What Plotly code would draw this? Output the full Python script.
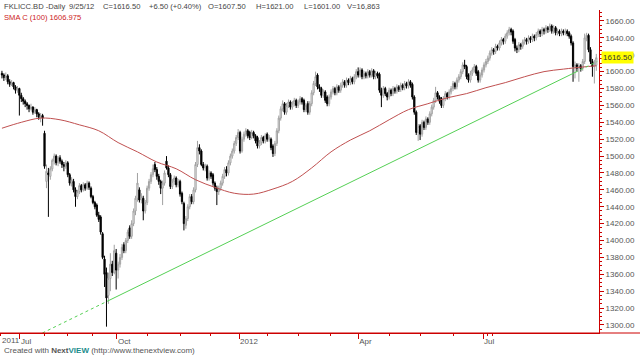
import plotly.graph_objects as go

# ---- OHLC data (daily bars, FKLICC.BD, mid-2011 .. 9/25/12) ----
opens = [
1598,1596,1593,1595,1588,1585,1587,1582,1578,1580,
1572,1568,1565,1562,1560,1556,1558,1552,1555,1550,
1546,1548,1527,1470,1480,1476,1485,1494,1500,1492,
1498,1494,1490,1488,1492,1478,1468,1470,1460,1452,
1458,1465,1460,1466,1462,1468,1462,1452,1445,1442,
1430,1428,1408,1378,1362,1335,1355,1372,1362,1385,
1365,1372,1380,1395,1388,1400,1415,1405,1420,1435,
1450,1460,1448,1450,1435,1445,1462,1470,1478,1490,
1484,1476,1470,1462,1468,1494,1486,1478,1464,1470,
1474,1466,1470,1456,1444,1418,1426,1440,1452,1446,
1460,1490,1510,1506,1490,1486,1488,1474,1480,1478,
1468,1462,1458,1462,1468,1476,1484,1480,1492,1500,
1506,1515,1522,1528,1506,1520,1526,1530,1528,1522,
1528,1524,1522,1512,1516,1522,1518,1526,1520,1520,
1512,1503,1515,1530,1545,1556,1562,1552,1560,1564,
1558,1562,1566,1560,1564,1568,1566,1555,1562,1552,
1562,1575,1586,1596,1582,1580,1572,1576,1570,1562,
1570,1576,1580,1575,1582,1578,1584,1588,1584,1590,
1587,1592,1588,1594,1600,1596,1602,1594,1598,1595,
1600,1596,1601,1594,1598,1597,1578,1572,1580,1574,
1570,1578,1574,1580,1577,1582,1579,1584,1581,1586,
1583,1588,1585,1570,1552,1528,1536,1526,1540,1534,
1544,1540,1550,1558,1566,1575,1570,1568,1560,1568,
1574,1570,1576,1580,1586,1582,1590,1594,1600,1608,
1606,1596,1590,1598,1602,1606,1600,1590,1596,1602,
1608,1612,1616,1622,1626,1624,1630,1628,1634,1638,
1636,1642,1646,1650,1648,1638,1628,1626,1632,1630,
1635,1638,1636,1640,1638,1642,1640,1644,1648,1645,
1650,1648,1652,1650,1654,1648,1652,1646,1648,1645,
1648,1646,1648,1646,1642,1634,1606,1608,1604,1607,
1604,1612,1640,1643,1626,1612,1606,1607.5]

highs = [
1601,1598,1599,1597,1591,1590,1588,1584,1583,1581,
1575,1570,1567,1564,1561,1562,1559,1558,1556,1552,
1551,1550,1530,1490,1486,1488,1497,1503,1502,1500,
1501,1496,1493,1495,1494,1480,1475,1473,1463,1460,
1468,1467,1469,1468,1471,1470,1464,1454,1447,1444,
1434,1430,1410,1382,1368,1362,1385,1376,1395,1390,
1375,1384,1396,1398,1403,1413,1418,1424,1438,1453,
1480,1463,1456,1453,1448,1465,1473,1481,1490,1493,
1487,1479,1472,1471,1483,1500,1489,1480,1473,1477,
1476,1473,1472,1458,1446,1429,1443,1455,1455,1463,
1493,1518,1514,1508,1493,1491,1490,1483,1482,1480,
1470,1465,1465,1471,1479,1487,1488,1495,1503,1509,
1518,1525,1532,1530,1523,1529,1533,1532,1530,1531,
1530,1526,1524,1519,1525,1524,1527,1528,1525,1522,
1514,1518,1533,1548,1559,1566,1564,1563,1567,1566,
1565,1569,1568,1567,1571,1570,1568,1563,1565,1565,
1578,1589,1600,1598,1585,1582,1579,1578,1572,1573,
1579,1583,1582,1585,1584,1587,1591,1590,1593,1592,
1595,1594,1597,1603,1605,1605,1604,1601,1600,1603,
1602,1604,1603,1601,1600,1599,1581,1583,1582,1576,
1581,1580,1583,1582,1585,1584,1587,1586,1589,1588,
1591,1590,1587,1572,1554,1538,1538,1543,1542,1547,
1546,1553,1561,1569,1582,1577,1572,1570,1571,1577,
1576,1579,1583,1589,1588,1593,1597,1603,1611,1614,
1608,1598,1601,1605,1609,1608,1602,1599,1605,1611,
1615,1619,1625,1629,1628,1633,1632,1637,1641,1640,
1645,1649,1653,1652,1650,1640,1631,1635,1634,1638,
1641,1640,1643,1642,1645,1644,1647,1651,1650,1653,
1652,1655,1654,1657,1656,1655,1654,1651,1650,1651,
1650,1651,1650,1648,1644,1636,1612,1610,1610,1609,
1615,1645,1646,1645,1629,1615,1614,1621]

lows = [
1592,1589,1590,1585,1582,1583,1579,1574,1575,1548,
1564,1561,1558,1555,1552,1554,1549,1550,1546,1543,
1540,1536,1485,1462,1428,1472,1482,1490,1489,1488,
1491,1486,1482,1485,1475,1465,1464,1457,1440,1449,
1455,1457,1458,1459,1460,1460,1450,1443,1437,1428,
1422,1407,1378,1345,1298,1325,1340,1358,1360,1342,
1355,1368,1377,1385,1385,1397,1402,1402,1417,1430,
1446,1445,1444,1424,1432,1442,1459,1467,1475,1481,
1472,1466,1455,1442,1465,1484,1475,1461,1461,1466,
1463,1463,1452,1443,1412,1414,1423,1437,1443,1443,
1457,1487,1502,1488,1483,1482,1471,1471,1473,1465,
1459,1442,1454,1459,1465,1473,1476,1477,1489,1497,
1503,1512,1519,1503,1504,1517,1523,1521,1519,1520,
1521,1515,1509,1509,1513,1515,1515,1517,1517,1507,
1499,1500,1512,1527,1542,1553,1549,1549,1557,1555,
1555,1559,1557,1557,1561,1561,1552,1552,1549,1549,
1559,1572,1583,1579,1576,1569,1569,1563,1559,1559,
1567,1573,1572,1572,1575,1575,1581,1581,1581,1584,
1584,1585,1585,1591,1593,1593,1591,1591,1592,1592,
1593,1593,1591,1591,1592,1575,1558,1569,1571,1566,
1567,1571,1571,1574,1574,1576,1576,1578,1578,1580,
1580,1581,1567,1549,1525,1518,1519,1523,1531,1531,
1537,1537,1547,1555,1563,1567,1562,1557,1557,1565,
1567,1567,1573,1577,1579,1579,1587,1591,1597,1603,
1591,1587,1587,1595,1599,1595,1587,1587,1593,1599,
1605,1609,1613,1619,1620,1621,1625,1625,1631,1632,
1633,1639,1643,1643,1633,1624,1622,1623,1626,1627,
1632,1632,1633,1634,1635,1636,1637,1641,1641,1642,
1644,1645,1646,1647,1645,1645,1643,1643,1642,1642,
1643,1643,1642,1639,1631,1588,1592,1600,1588,1600,
1601,1609,1636,1623,1609,1594,1586,1601]

closes = [
1596,1593,1595,1588,1585,1587,1582,1578,1580,1572,
1568,1565,1562,1560,1556,1558,1552,1555,1550,1546,
1548,1545,1488,1482,1478,1485,1495,1500,1492,1498,
1494,1490,1488,1492,1478,1468,1472,1460,1452,1458,
1465,1460,1466,1462,1468,1463,1452,1445,1440,1430,
1425,1410,1380,1360,1332,1355,1372,1362,1388,1365,
1372,1380,1392,1388,1400,1410,1405,1420,1435,1450,
1468,1448,1452,1435,1445,1462,1470,1478,1485,1484,
1476,1470,1462,1468,1480,1486,1478,1464,1470,1474,
1466,1470,1455,1446,1420,1426,1440,1452,1446,1460,
1490,1510,1506,1490,1486,1488,1474,1480,1476,1468,
1462,1458,1462,1468,1476,1484,1480,1492,1500,1506,
1515,1522,1528,1506,1520,1526,1530,1524,1522,1528,
1524,1518,1512,1516,1522,1518,1524,1520,1522,1510,
1503,1515,1530,1545,1556,1562,1552,1560,1564,1558,
1562,1566,1560,1564,1568,1564,1555,1560,1552,1562,
1575,1586,1594,1582,1580,1572,1576,1566,1562,1570,
1576,1580,1575,1582,1578,1584,1588,1584,1590,1587,
1592,1588,1594,1600,1596,1602,1594,1598,1595,1600,
1596,1601,1594,1598,1595,1578,1572,1580,1574,1570,
1578,1574,1580,1577,1582,1579,1584,1581,1586,1583,
1588,1584,1570,1552,1528,1535,1526,1540,1534,1544,
1540,1550,1558,1566,1575,1570,1565,1560,1568,1574,
1570,1576,1580,1586,1582,1590,1594,1600,1608,1606,
1594,1590,1598,1602,1606,1598,1590,1596,1602,1608,
1612,1616,1622,1626,1624,1630,1628,1634,1638,1636,
1642,1646,1650,1647,1636,1628,1626,1632,1630,1635,
1638,1636,1640,1638,1642,1640,1644,1648,1645,1650,
1648,1652,1650,1654,1648,1652,1646,1648,1645,1648,
1646,1648,1645,1642,1634,1606,1608,1604,1607,1604,
1612,1640,1643,1626,1612,1606,1610,1616.5]

bar_index = list(range(len(closes)))

# SMA(100) of close
sma_index = [0, 10, 20, 30, 40, 50, 60, 70, 80, 90, 100, 110, 120, 130, 140, 150,
             160, 170, 180, 190, 200, 210, 220, 230, 240, 250, 260, 270, 280, 290, 300, 307]
sma_values = [1533, 1540, 1545, 1543, 1537, 1530, 1516, 1505, 1493, 1485, 1472, 1463,
              1456, 1455, 1461, 1470, 1486, 1505, 1519, 1530, 1543, 1555, 1562, 1569,
              1574, 1581, 1587, 1594, 1600, 1603, 1605.5, 1606.975]

# Trend line (green): dotted extension, solid part, dotted extension
trend_dot1_index = [20.9, 54.3]
trend_dot1_values = [1290.5, 1328]
trend_solid_index = [54.3, 296]
trend_solid_values = [1328, 1599]
trend_dot2_index = [296, 307.5]
trend_dot2_values = [1599, 1612]

x_tick_index = [9.3, 59.4, 122.5, 184, 248.5]
x_tick_text = ["Jul", "Oct", "2012", "Apr", "Jul"]
first_year_label = "2011"
x_minor_index = [-0.6, 22.2, 34.1, 47, 75.4, 92, 107.5, 137.4, 153, 169.5, 200.4, 216, 233, 251, 253.6]
y_tick_values = list(range(1300, 1661, 20))

last_close = 1616.5

RED = "#cc0000"
TXT = "#555555"
FONT = "Liberation Sans, Arial, sans-serif"

W, H = 640, 357
ML, MR, MT, MB = 0, 41, 10, 24
PW, PH = W - ML - MR, H - MT - MB

def px(x):
    return (x - ML) / PW

def py(y):
    return (H - MB - y) / PH

fig = go.Figure()

fig.add_trace(go.Scatter(x=sma_index, y=sma_values, mode="lines",
                         line=dict(color="#c05050", width=1, shape="spline"),
                         hoverinfo="skip", showlegend=False))
fig.add_trace(go.Scatter(x=trend_dot1_index, y=trend_dot1_values, mode="lines",
                         line=dict(color="#55d055", width=1, dash="dot"),
                         hoverinfo="skip", showlegend=False))
fig.add_trace(go.Scatter(x=trend_solid_index, y=trend_solid_values, mode="lines",
                         line=dict(color="#55d055", width=1),
                         hoverinfo="skip", showlegend=False))
fig.add_trace(go.Scatter(x=trend_dot2_index, y=trend_dot2_values, mode="lines",
                         line=dict(color="#55d055", width=1, dash="dot"),
                         hoverinfo="skip", showlegend=False))

fig.add_trace(go.Candlestick(
    x=bar_index, open=opens, high=highs, low=lows, close=closes,
    increasing=dict(line=dict(color="#a0a0a0", width=1), fillcolor="white"),
    decreasing=dict(line=dict(color="black", width=1), fillcolor="black"),
    whiskerwidth=0, showlegend=False, hoverinfo="skip"))

fig.update_layout(
    width=W, height=H,
    margin=dict(l=ML, r=MR, t=MT, b=MB, pad=0),
    paper_bgcolor="white", plot_bgcolor="white",
    showlegend=False, boxgap=0.1,
    font=dict(family=FONT, size=8, color=TXT),
    xaxis=dict(
        range=[-1, 308.4], rangeslider=dict(visible=False),
        showgrid=False, zeroline=False,
        showline=True, linecolor=RED, linewidth=1,
        tickmode="array", tickvals=x_tick_index, ticktext=x_tick_text,
        ticks="outside", ticklen=5, tickcolor=RED, tickwidth=1,
        ticklabelposition="outside right",
        tickfont=dict(family=FONT, size=8, color=TXT),
        minor=dict(tickmode="array", tickvals=x_minor_index, ticks="outside",
                   ticklen=2, tickcolor=RED, tickwidth=1, showgrid=False),
    ),
    yaxis=dict(
        range=[1290.5, 1673], side="right",
        showgrid=False, zeroline=False,
        showline=True, linecolor=RED, linewidth=1,
        tickmode="array", tickvals=y_tick_values, tickformat=".2f",
        ticks="outside", ticklen=4, tickcolor=RED, tickwidth=1,
        tickfont=dict(family=FONT, size=8, color=TXT),
        minor=dict(dtick=5, ticks="outside", ticklen=2, tickcolor=RED,
                   tickwidth=1, showgrid=False),
    ),
    hovermode=False,
)

# bottom red line running under the price scale to the page edge
fig.add_shape(type="line", xref="paper", yref="paper", x0=0, x1=W / PW, y0=0, y1=0,
              line=dict(color=RED, width=1))

ann = []
header = [
    (2, "FKLICC.BD -Daily"), (67, "9/25/12"), (101, "C=1616.50"),
    (147, "+6.50 (+0.40%)"), (206, "O=1607.50"), (254, "H=1621.00"),
    (302, "L=1601.00"), (345, "V=16,863"),
]
for x, t in header:
    ann.append(dict(x=px(x), y=py(6), xref="paper", yref="paper", text=t,
                    showarrow=False, xanchor="left", yanchor="middle",
                    font=dict(family=FONT, size=7.6, color="#444444")))
ann.append(dict(x=px(2), y=py(17), xref="paper", yref="paper",
                text="SMA C (100) 1606.975", showarrow=False, xanchor="left",
                yanchor="middle", font=dict(family=FONT, size=7.6, color="#cc2222")))
ann.append(dict(x=px(0), y=py(340), xref="paper", yref="paper",
                text=first_year_label, showarrow=False, xanchor="left",
                yanchor="middle", font=dict(family=FONT, size=8, color=TXT)))
ann.append(dict(x=px(2), y=py(350), xref="paper", yref="paper",
                text="Created with <b>Next</b><b><span style='color:#1a8c8c'>VIEW</span></b> (http://www.thenextview.com)",
                showarrow=False, xanchor="left", yanchor="middle",
                font=dict(family=FONT, size=8, color="#555555")))
ann.append(dict(x=1, y=last_close, xref="paper", yref="y", xshift=2,
                text=f"{last_close:.2f}", showarrow=False, xanchor="left",
                yanchor="middle", bgcolor="#ffff00", borderpad=1,
                font=dict(family=FONT, size=8, color="#333333")))
fig.update_layout(annotations=ann)

fig.write_html("out.html", config={"displayModeBar": False},
               post_script="document.body.style.margin='0';document.body.style.padding='0';")
